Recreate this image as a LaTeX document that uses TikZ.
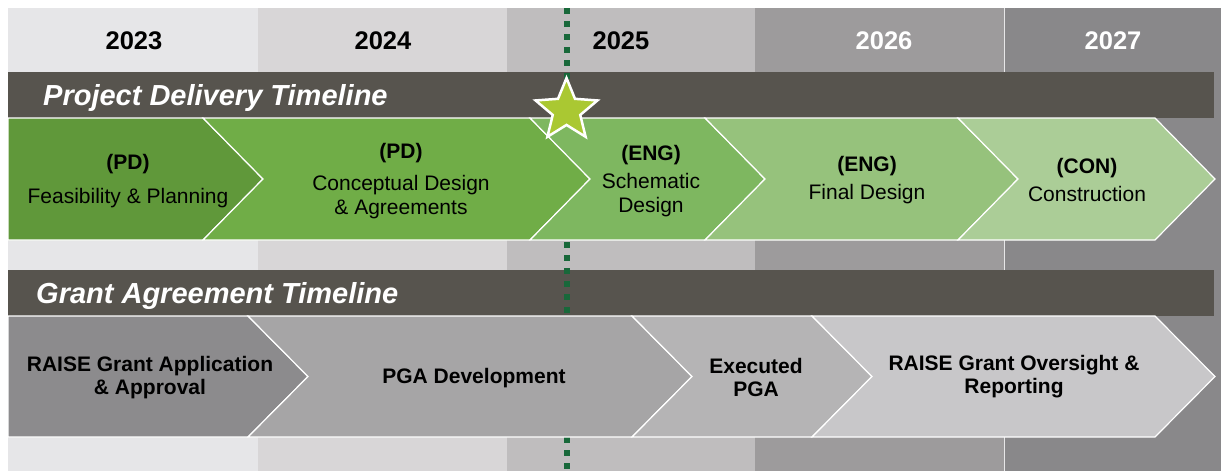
\documentclass[tikz,border=0pt]{standalone}
\usepackage{fontspec}
\setmainfont{Liberation Sans}
\usepackage{xcolor}
\usepackage{tikz}
\usetikzlibrary{shapes.geometric}
\definecolor{colA}{RGB}{230,230,232}
\definecolor{colB}{RGB}{216,214,215}
\definecolor{colC}{RGB}{191,189,190}
\definecolor{colD}{RGB}{157,155,156}
\definecolor{colE}{RGB}{137,136,138}
\definecolor{bandgray}{RGB}{87,84,78}
\definecolor{markgreen}{RGB}{24,104,58}
\definecolor{stargreen}{RGB}{170,200,50}
\definecolor{grnA}{RGB}{96,152,58}
\definecolor{grnB}{RGB}{112,173,71}
\definecolor{grnC}{RGB}{126,183,96}
\definecolor{grnD}{RGB}{150,194,124}
\definecolor{grnE}{RGB}{171,205,151}
\definecolor{gryA}{RGB}{140,139,141}
\definecolor{gryB}{RGB}{166,165,166}
\definecolor{gryC}{RGB}{181,180,181}
\definecolor{gryD}{RGB}{200,199,201}
% chevron: fill, left x, top-right x, top y, bottom y, notch depth (0 = flat)
\newcommand{\DrawChevron}[6]{\filldraw[#1,draw=white,line width=1.2pt] (#2,#4) -- (#3,#4) -- ({#3+60},{(#4+#5)/2}) -- (#3,#5) -- (#2,#5) -- ({#2+#6},{(#4+#5)/2}) -- cycle;}

\begin{document}
\begin{tikzpicture}[
x=1pt,y=-1pt,
YearText/.style={font=\bfseries\fontsize{25.5}{28}\selectfont,inner sep=0pt},
BandText/.style={font=\bfseries\itshape\fontsize{29}{32}\selectfont,text=white,anchor=base west,inner sep=0pt},
PhaseText/.style={font=\fontsize{21}{23.5}\selectfont,align=center,inner sep=0pt},
GrantText/.style={font=\bfseries\fontsize{21}{23}\selectfont,align=center,inner sep=0pt},
Band/.style={fill=bandgray},
MarkLine/.style={line width=6pt,dash pattern=on 6pt off 7pt,color=markgreen}
]
\useasboundingbox (0,0) rectangle (1221,471);

% year columns
\fill[colA] (8,8) rectangle (258,471);
\fill[colB] (258,8) rectangle (507,471);
\fill[colC] (507,8) rectangle (755,471);
\fill[colD] (755,8) rectangle (1004,471);
\fill[colE] (1004,8) rectangle (1221,471);
\draw[white!80!colE,line width=1pt] (1004,8) -- (1004,471);

\node[YearText] (y2023) at (134,41) {2023};
\node[YearText] (y2024) at (383,41) {2024};
\node[YearText] (y2025) at (621,41) {2025};
\node[YearText,text=white] (y2026) at (884,41) {2026};
\node[YearText,text=white] (y2027) at (1113,41) {2027};

% title bands
\fill[Band] (8,72) rectangle (1214,118);
\fill[Band] (8,270) rectangle (1214,316);
\node[BandText] (pdt) at (43,105) {Project Delivery Timeline};
\node[BandText] (gat) at (36,303) {Grant Agreement Timeline};

% milestone line
\coordinate (MarkTop) at (566.5,8);
\coordinate (MarkBot) at (566.5,471);
\draw[MarkLine] (MarkTop) -- (MarkBot);

% project delivery chevrons
\DrawChevron{grnA}{8}{203}{118}{240}{0}
\DrawChevron{grnB}{203}{530}{118}{240}{60}
\DrawChevron{grnC}{530}{705}{118}{240}{60}
\DrawChevron{grnD}{705}{958}{118}{240}{60}
\DrawChevron{grnE}{958}{1155}{118}{240}{60}

\node[PhaseText] (feas) at (128,181) {\textbf{(PD)}\\[11pt]Feasibility \& Planning};
\node[PhaseText] (concept) at (401,181) {\textbf{(PD)}\\[9pt]Conceptual Design\\\& Agreements};
\node[PhaseText] (schem) at (651,181) {\textbf{(ENG)}\\[5pt]Schematic\\Design};
\node[PhaseText] (final) at (867,180) {\textbf{(ENG)}\\[5pt]Final Design};
\node[PhaseText] (constr) at (1087,180) {\textbf{(CON)}\\[5pt]Construction};

% grant agreement chevrons
\DrawChevron{gryA}{8}{248}{316}{437}{0}
\DrawChevron{gryB}{248}{632}{316}{437}{60}
\DrawChevron{gryC}{632}{812}{316}{437}{60}
\DrawChevron{gryD}{812}{1155}{316}{437}{60}

\node[GrantText] (raise) at (150,378) {RAISE Grant Application\\\& Approval};
\node[GrantText] (pgadev) at (474,378) {PGA Development};
\node[GrantText] (execpga) at (756,377) {Executed\\PGA};
\node[GrantText] (oversight) at (1014,377) {RAISE Grant Oversight \&\\Reporting};

% milestone star
\node[star,star points=5,star point ratio=2.25,minimum size=65pt,inner sep=0pt,fill=stargreen,draw=white,line width=2.5pt] (milestone) at (566.5,110.5) {};

\end{tikzpicture}
\end{document}
